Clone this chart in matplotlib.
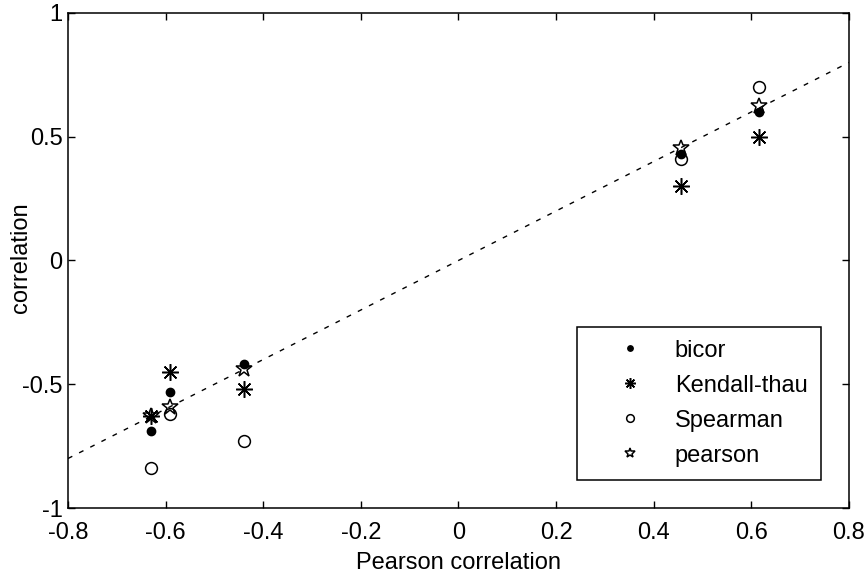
import numpy as np
import matplotlib.pyplot as plt

plt.rcParams["font.family"] = ["Liberation Sans", "DejaVu Sans"]

# x positions (Pearson correlation) and the four measures
pearson_x = [-0.63, -0.59, -0.44, 0.455, 0.615]
bicor = [-0.69, -0.53, -0.42, 0.43, 0.60]
kendall = [-0.63, -0.45, -0.52, 0.30, 0.50]
spearman = [-0.84, -0.62, -0.73, 0.41, 0.70]
pearson = [-0.63, -0.59, -0.44, 0.455, 0.625]

xticks = [-0.8, -0.6, -0.4, -0.2, 0, 0.2, 0.4, 0.6, 0.8]
xticklabels = ["-0.8", "-0.6", "-0.4", "-0.2", "0", "0.2", "0.4", "0.6", "0.8"]
yticks = [-1, -0.5, 0, 0.5, 1]
yticklabels = ["-1", "-0.5", "0", "0.5", "1"]

fs = 17

fig = plt.figure(figsize=(8.67, 5.79), dpi=100)
ax = fig.add_axes([0.0784, 0.1226, 0.9008, 0.855])

ax.plot(pearson_x, bicor, ls="none", marker="o", ms=6, color="k", label="bicor")
ax.plot(pearson_x, kendall, ls="none", marker=(8, 2, 0), ms=12, mew=1.1,
        color="k", label="Kendall-thau")
ax.plot(pearson_x, spearman, ls="none", marker="o", ms=8.5, mfc="none", mew=1.1,
        color="k", label="Spearman")
ax.plot(pearson_x, pearson, ls="none", marker="*", ms=12, mfc="none", mew=1.1,
        color="k", label="pearson")

# identity line
ax.plot([-0.8, 0.8], [-0.8, 0.8], ls=(0, (3.5, 5.5)), lw=1.0, color="k")

ax.set_xlim(-0.8, 0.8)
ax.set_ylim(-1, 1)
ax.set_xticks(xticks)
ax.set_xticklabels(xticklabels)
ax.set_yticks(yticks)
ax.set_yticklabels(yticklabels)
ax.tick_params(direction="in", top=True, right=True, labelsize=fs, length=5,
               width=1)
ax.tick_params(axis="x", pad=10)
ax.tick_params(axis="y", pad=4)
for s in ax.spines.values():
    s.set_linewidth(1.1)

ax.set_xlabel("Pearson correlation", fontsize=fs, va="top")
ax.xaxis.set_label_coords(0.5, -0.088)
ax.set_ylabel("correlation", fontsize=fs)
ax.yaxis.set_label_coords(-0.046, 0.505)

leg = ax.legend(loc="lower right", fontsize=fs, fancybox=False, edgecolor="k",
                framealpha=1, borderaxespad=1.2, handlelength=3.4,
                handletextpad=0.2, labelspacing=0.55, borderpad=0.55,
                markerscale=0.65)
leg.get_frame().set_linewidth(1.1)

fig.savefig("out.png", dpi=100)
